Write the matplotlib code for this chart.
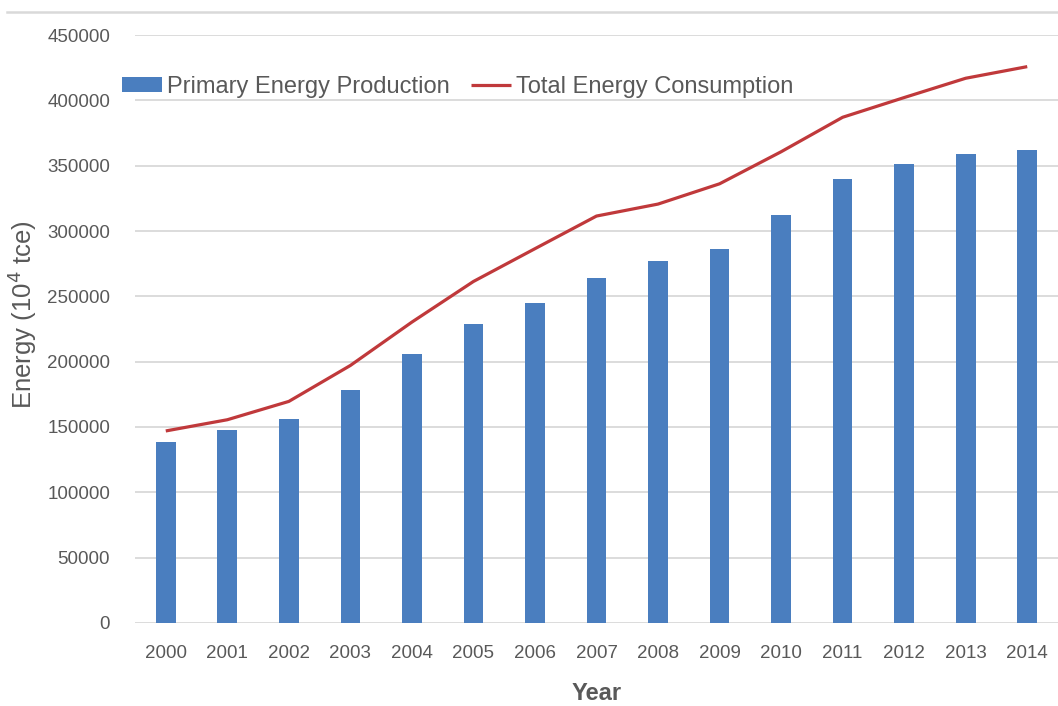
import matplotlib
matplotlib.use("Agg")
import matplotlib.pyplot as plt
from matplotlib.lines import Line2D
import numpy as np

plt.rcParams['font.family'] = ['Liberation Sans', 'DejaVu Sans']

years = ["2000", "2001", "2002", "2003", "2004", "2005", "2006", "2007",
         "2008", "2009", "2010", "2011", "2012", "2013", "2014"]
production = [138570, 147425, 156277, 178299, 206108, 229037, 244763, 264173,
              277419, 286092, 312125, 340178, 351041, 358784, 361866]
consumption = [146964, 155547, 169577, 197083, 230281, 261369, 286467, 311442,
               320611, 336126, 360648, 387043, 402138, 416913, 425806]
y_ticks = [0, 50000, 100000, 150000, 200000, 250000, 300000, 350000, 400000, 450000]

bar_color = "#4A7EBF"
line_color = "#C0393B"
text_color = "#595959"
grid_color = "#D9D9D9"

fig = plt.figure(figsize=(10.58, 7.06), dpi=100)
ax = fig.add_axes([0.1276, 0.1176, 0.8724, 0.8328])

x = np.arange(len(years))
bars = ax.bar(x, production, width=0.32, color=bar_color, zorder=2,
              label="Primary Energy Production")
line, = ax.plot(x, consumption, color=line_color, linewidth=2.3, zorder=3,
                solid_capstyle="butt", label="Total Energy Consumption")

ax.set_xlim(-0.5, len(years) - 0.5)
ax.set_ylim(0, 450000)
ax.set_yticks(y_ticks)
ax.set_yticklabels([str(v) for v in y_ticks])
ax.set_xticks(x)
ax.set_xticklabels(years)

ax.yaxis.grid(True, color=grid_color, linewidth=1.3, zorder=0)
ax.set_axisbelow(True)
for s in ax.spines.values():
    s.set_visible(False)
ax.tick_params(axis="both", length=0, labelsize=13.5, colors=text_color)
ax.tick_params(axis="y", pad=18)
ax.tick_params(axis="x", pad=16)

ax.set_xlabel("Year", fontsize=17, fontweight="bold", color=text_color, labelpad=14)
ax.set_ylabel("Energy (10$^4$ tce)", fontsize=18.5, color=text_color)
ax.yaxis.set_label_coords(-0.104, 0.524)

leg = ax.legend([bars, line], ["Primary Energy Production", "Total Energy Consumption"],
                loc="center left", bbox_to_anchor=(-0.014, 0.912), ncol=2,
                frameon=False, fontsize=17, handlelength=1.7, handleheight=0.65,
                handletextpad=0.2, columnspacing=0.9, borderpad=0, borderaxespad=0)
for t in leg.get_texts():
    t.set_color(text_color)

# thin rule across the top of the figure
fig.add_artist(Line2D([7 / 1058, 1.0], [1 - 12 / 706, 1 - 12 / 706],
                      transform=fig.transFigure, color=grid_color, linewidth=1.8))

fig.savefig("out.png", dpi=100)
